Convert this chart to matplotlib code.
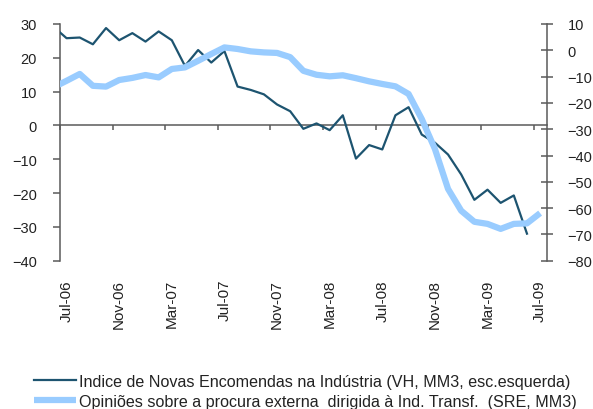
import matplotlib
matplotlib.use("Agg")
import matplotlib.pyplot as plt
import numpy as np

plt.rcParams['font.family'] = ['Liberation Sans', 'DejaVu Sans']

# Months: Jun-06 (partly visible at left edge) through Jul-09
months = ["Jun-06", "Jul-06", "Aug-06", "Sep-06", "Oct-06", "Nov-06", "Dec-06",
          "Jan-07", "Feb-07", "Mar-07", "Apr-07", "May-07", "Jun-07", "Jul-07",
          "Aug-07", "Sep-07", "Oct-07", "Nov-07", "Dec-07", "Jan-08", "Feb-08",
          "Mar-08", "Apr-08", "May-08", "Jun-08", "Jul-08", "Aug-08", "Sep-08",
          "Oct-08", "Nov-08", "Dec-08", "Jan-09", "Feb-09", "Mar-09", "Apr-09",
          "May-09", "Jun-09", "Jul-09"]

# Indice de Novas Encomendas na Industria (left axis), Jun-06 .. Jun-09
encomendas = [29.2, 25.8, 26.0, 24.0, 28.8, 25.2, 27.3, 24.8, 27.8, 25.2, 17.6,
              22.3, 18.6, 22.0, 11.5, 10.5, 9.2, 6.2, 4.2, -1.0, 0.6, -1.4, 3.0,
              -9.8, -5.8, -7.1, 3.0, 5.4, -2.7, -5.1, -8.6, -14.5, -22.0, -19.0,
              -22.9, -20.7, -32.0]

# Opinioes sobre a procura externa (right axis), Jun-06 .. Jul-09
procura = [-14.1, -11.6, -9.0, -13.5, -13.8, -11.3, -10.5, -9.4, -10.3, -7.1,
           -6.5, -4.0, -1.4, 1.1, 0.5, -0.4, -0.8, -1.0, -2.6, -7.8, -9.3, -9.9,
           -9.5, -10.6, -11.8, -12.8, -13.7, -16.6, -26.1, -37.5, -52.7, -61.0,
           -65.2, -66.0, -67.9, -66.0, -65.8, -61.9]

tick_labels = ["Jul-06", "Nov-06", "Mar-07", "Jul-07", "Nov-07", "Mar-08",
               "Jul-08", "Nov-08", "Mar-09", "Jul-09"]

label1 = "Indice de Novas Encomendas na Indústria (VH, MM3, esc.esquerda)"
label2 = "Opiniões sobre a procura externa  dirigida à Ind. Transf.  (SRE, MM3)"

dark = "#1D5470"
light = "#99CCFF"
axc = "#5A5A5A"
txtc = "#222222"

W, H = 593, 410
fig = plt.figure(figsize=(W / 100, H / 100), dpi=100)
left, right, top, bottom = 60, 546.7, 25, 261.7
ax = fig.add_axes([left / W, 1 - bottom / H, (right - left) / W, (bottom - top) / H])
ax2 = ax.twinx()

x_enc = np.arange(len(encomendas)) - 1
x_pro = np.arange(len(procura)) - 1

l1, = ax.plot(x_enc, encomendas, color=dark, lw=1.6, zorder=3)
l2, = ax2.plot(x_pro, procura, color=light, lw=4.5, solid_capstyle='butt', zorder=2)

ax.set_xlim(-0.5, 36.5)
ax.set_ylim(-40, 30)
ax2.set_ylim(-80, 10)
ax.set_yticks(np.arange(-40, 31, 10))
ax2.set_yticks(np.arange(-80, 11, 10))

for a in (ax, ax2):
    a.spines['top'].set_visible(False)
    a.patch.set_visible(False)
ax.spines['right'].set_visible(False)
ax2.spines['left'].set_visible(False)
ax2.spines['bottom'].set_visible(False)
ax.spines['bottom'].set_position(('data', 0))
ax.spines['bottom'].set_color(axc)
ax.spines['left'].set_color(axc)
ax2.spines['right'].set_color(axc)
for s in (ax.spines['bottom'], ax.spines['left'], ax2.spines['right']):
    s.set_linewidth(1.1)

ax.set_xticks(np.arange(-0.5, 36.6, 4))
ax.tick_params(axis='x', direction='out', length=3.5, width=1.1, color=axc,
               labelbottom=False)
ax.tick_params(axis='y', direction='out', length=5, width=1.1, color=axc,
               labelsize=10.5, labelcolor=txtc, pad=11.5)
ax2.tick_params(axis='y', direction='inout', length=8, width=1.1, color=axc,
                labelsize=10.5, labelcolor=txtc, pad=11)

xt = ax.get_xaxis_transform()
for i, lab in enumerate(tick_labels):
    ax.text(i * 4, -0.077, lab, transform=xt, rotation=90, ha='center', va='top',
            fontsize=11, color=txtc)

leg = fig.legend([l1, l2], [label1, label2], loc='upper left',
                 bbox_to_anchor=(34 / W, 1 - 375 / H), frameon=False,
                 fontsize=11.6, handlelength=2.6, handletextpad=0.2,
                 labelspacing=0.3, borderpad=0, borderaxespad=0)
for t in leg.get_texts():
    t.set_color(txtc)

fig.savefig("out.png", dpi=100)
